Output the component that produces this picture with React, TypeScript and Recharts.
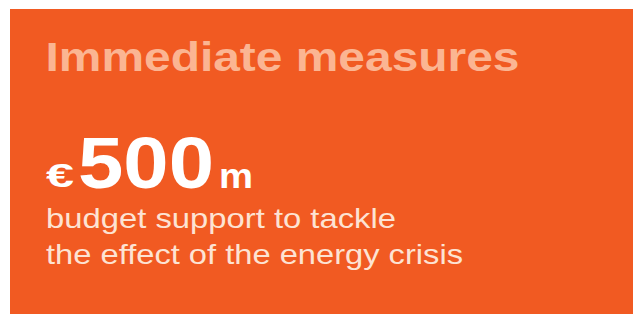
import React from "react";
import { Surface, Layer } from "recharts";

const TITLE: string[] = ["Immediate measures"];
const FIGURE_PARTS: string[] = ["€", "500", "m"];
const CAPTION_LINES: string[] = ["budget support to tackle", "the effect of the energy crisis"];

const PAGE_W = 641;
const PAGE_H = 314;
const MARGIN = 8;
const W = PAGE_W - MARGIN;
const H = PAGE_H - MARGIN;
const BG = "#F15A22";
const FONT = "'Liberation Sans', Arial, Helvetica, sans-serif";

const figureStyle = [
  { x: 46, y: 187, size: 34, len: 28 },
  { x: 78, y: 188, size: 72, len: 136 },
  { x: 219, y: 188, size: 35, len: 34 },
];
const captionStyle = [
  { x: 46, y: 228, len: 350 },
  { x: 46, y: 264, len: 417 },
];

export default function App() {
  return (
    <div style={{ width: W, height: H, overflow: "hidden" }}>
      <Surface width={W} height={H}>
        <g transform={`translate(${-MARGIN},${-MARGIN})`}>
          <rect x={10} y={9} width={PAGE_W - 10} height={PAGE_H - 9} fill={BG} />
          <Layer>
            <text
              x={45.5}
              y={71}
              fontFamily={FONT}
              fontWeight="bold"
              fontSize={41}
              fill="#FBB592"
              textLength={474}
              lengthAdjust="spacingAndGlyphs"
            >
              {TITLE[0]}
            </text>
          </Layer>
          <Layer>
            {FIGURE_PARTS.map((p, i) => (
              <text
                key={p}
                x={figureStyle[i].x}
                y={figureStyle[i].y}
                fontFamily={FONT}
                fontWeight="bold"
                fontSize={figureStyle[i].size}
                fill="#FFFFFF"
                textLength={figureStyle[i].len}
                lengthAdjust="spacingAndGlyphs"
              >
                {p}
              </text>
            ))}
          </Layer>
          <Layer>
            {CAPTION_LINES.map((line, i) => (
              <text
                key={line}
                x={captionStyle[i].x}
                y={captionStyle[i].y}
                fontFamily={FONT}
                fontSize={28}
                fill="#FDE3D3"
                textLength={captionStyle[i].len}
                lengthAdjust="spacingAndGlyphs"
              >
                {line}
              </text>
            ))}
          </Layer>
        </g>
      </Surface>
    </div>
  );
}
